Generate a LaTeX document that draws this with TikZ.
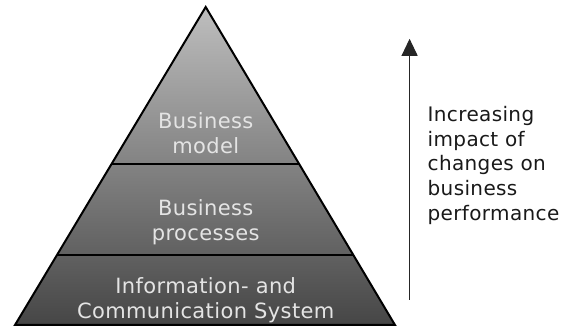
\documentclass[tikz,border=0pt]{standalone}
\usepackage{fontspec}
\setmainfont[LetterSpace=1.8]{DejaVu Sans}
\usetikzlibrary{arrows.meta,calc}
\definecolor{ptop}{RGB}{190,190,190}
\definecolor{pmid}{RGB}{138,138,138}
\definecolor{pbot}{RGB}{70,70,70}
\definecolor{ltext}{RGB}{228,228,228}
\begin{document}
\begin{tikzpicture}[x=1pt,y=1pt,
  lbl/.style={font=\fontsize{21}{25}\selectfont, text=ltext, align=center, inner sep=0pt},
  side/.style={font=\fontsize{20}{24.6}\selectfont, text=black!90, align=left, inner sep=0pt, anchor=west},
  edge/.style={line width=2pt},
  rise/.style={line width=1.1pt, draw=black!85, -{Triangle[length=17pt,width=16pt]}},
]
\useasboundingbox (0,0) rectangle (566,327);
\coordinate (apex) at (205.7,320);
\coordinate (bl) at (15,2);
\coordinate (br) at (395,2);
\shade[top color=ptop, middle color=pmid, bottom color=pbot] (apex) -- (br) -- (bl) -- cycle;
\coordinate (d1l) at ($(apex)!0.4937!(bl)$);
\coordinate (d1r) at ($(apex)!0.4937!(br)$);
\coordinate (d2l) at ($(apex)!0.7814!(bl)$);
\coordinate (d2r) at ($(apex)!0.7814!(br)$);
\draw[edge] (d1l) -- (d1r);
\draw[edge] (d2l) -- (d2r);
\draw[edge, line join=miter] (apex) -- (br) -- (bl) -- cycle;
\node[lbl] (model) at (205.7,194.2) {Business\\model};
\node[lbl] (proc) at (205.7,105) {Business\\processes};
\node[lbl] (ics) at (205.7,26.8) {Information- and\\Communication System};
\coordinate (arrlow) at (409.6,27.4);
\coordinate (arrtip) at (409.6,288.2);
\draw[rise] (arrlow) -- (arrtip);
\node[side] (impact) at (427.5,161.6) {Increasing\\impact of\\changes on\\business\\performance};
\end{tikzpicture}
\end{document}
